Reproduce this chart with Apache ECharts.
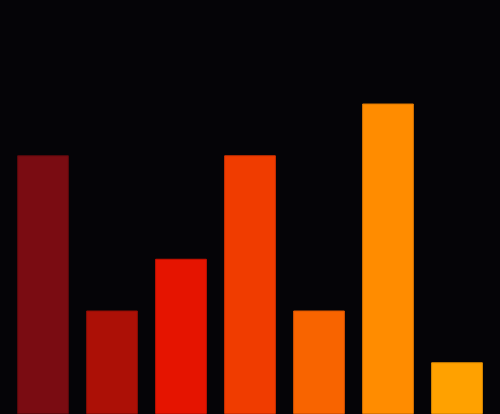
<!DOCTYPE html>
<html><head><meta charset="utf-8">
<script src="https://cdn.jsdelivr.net/npm/echarts@6/dist/echarts.min.js"></script>
<style>html,body{margin:0;padding:0;background:#050407;}#c{width:500px;height:414px;}</style>
</head><body><div id="c"></div>
<script>
const categories = ['A','B','C','D','E','F','G'];
const values = [5, 2, 3, 5, 2, 6, 1];
const colors = ['#7a0c12','#ac1006','#e51400','#f03c00','#f86400','#ff8c00','#ffa100'];
const borders = ['#5e080c','#8c0c04','#c41000','#d03000','#d85400','#dc7600','#e08c00'];
const chart = echarts.init(document.getElementById('c'));
chart.setOption({
  backgroundColor: '#050407',
  animation: false,
  grid: {left: 8.5, right: 8.5, top: 0, bottom: 0, containLabel: false},
  xAxis: {type: 'category', data: categories, show: false},
  yAxis: {type: 'value', min: 0, max: 8, show: false},
  series: [{
    type: 'bar',
    barWidth: '75%',
    data: values.map((v, i) => ({value: v, itemStyle: {color: colors[i], borderColor: borders[i], borderWidth: 1}}))
  }]
});
</script></body></html>
